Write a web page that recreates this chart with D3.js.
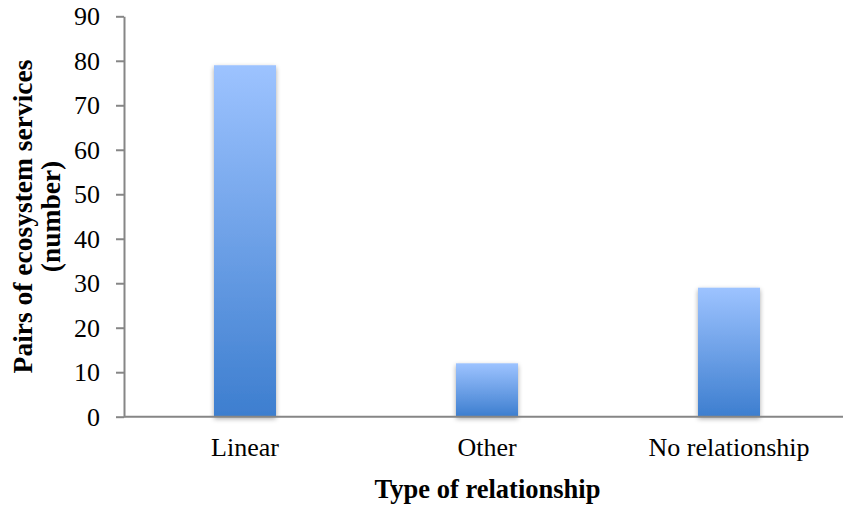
<!DOCTYPE html>
<html><head><meta charset="utf-8">
<script src="https://cdn.jsdelivr.net/npm/d3@7"></script>
<style>body{margin:0;background:#fff}svg{display:block}</style>
</head><body>
<script>
const categories = ["Linear", "Other", "No relationship"];
const values = [79, 12, 29];
const yTicks = [0, 10, 20, 30, 40, 50, 60, 70, 80, 90];
const yTitle = ["Pairs of ecosystem services", "(number)"];
const xTitle = "Type of relationship";

(function () {
const W = 843, H = 508;
const svg = d3.select("body").append("svg").attr("width", W).attr("height", H);
const mLeft = 124, mTop = 16.3, mBottom = 416.7;
const x = d3.scaleBand().domain(categories).range([mLeft, mLeft + 3 * 242]).padding(0);
const y = d3.scaleLinear().domain([0, 90]).range([mBottom, mTop]);

const defs = svg.append("defs");
const g = defs.append("linearGradient").attr("id", "bg").attr("x1", 0).attr("y1", 0).attr("x2", 0).attr("y2", 1);
g.append("stop").attr("offset", "0%").attr("stop-color", "#9dc3ff");
g.append("stop").attr("offset", "100%").attr("stop-color", "#3d7ecf");
const f = defs.append("filter").attr("id", "sh").attr("x", "-30%").attr("y", "-10%").attr("width", "160%").attr("height", "130%");
f.append("feGaussianBlur").attr("in", "SourceAlpha").attr("stdDeviation", 2.5).attr("result", "b");
f.append("feOffset").attr("in", "b").attr("dx", 0).attr("dy", 2).attr("result", "o");
f.append("feComponentTransfer").attr("in", "o").attr("result", "o2").append("feFuncA").attr("type", "linear").attr("slope", 0.35);
const m = f.append("feMerge");
m.append("feMergeNode").attr("in", "o2");
m.append("feMergeNode").attr("in", "SourceGraphic");

const bw = 62;
svg.append("g").selectAll("rect").data(values).join("rect")
  .attr("x", (d, i) => x(categories[i]) + x.bandwidth() / 2 - bw / 2)
  .attr("y", d => y(d))
  .attr("width", bw)
  .attr("height", d => y(0) - y(d))
  .attr("fill", "url(#bg)")
  .attr("filter", "url(#sh)");

const font = "'Liberation Serif', serif";
const ya = svg.append("g").attr("transform", `translate(${mLeft},0)`)
  .call(d3.axisLeft(y).tickValues(yTicks).tickSize(8).tickPadding(16).tickSizeOuter(0));
ya.select(".domain").attr("stroke", "#868686").attr("stroke-width", 2);
ya.selectAll(".tick line").attr("stroke", "#868686").attr("stroke-width", 2);
ya.selectAll(".tick text").attr("font-family", font).attr("font-size", 26).attr("fill", "#000");

const xa = svg.append("g").attr("transform", `translate(0,${mBottom})`)
  .call(d3.axisBottom(x).tickSize(0).tickPadding(21).tickSizeOuter(0));
xa.select(".domain").attr("stroke", "#868686").attr("stroke-width", 2).attr("d", `M${mLeft},0H${W}`);
xa.selectAll(".tick text").attr("font-family", font).attr("font-size", 26).attr("fill", "#000");

svg.append("text").attr("x", 487.5).attr("y", 497.5).attr("text-anchor", "middle")
  .attr("font-family", font).attr("font-weight", "bold").attr("font-size", 26.5).text(xTitle);

const yt = svg.append("text").attr("transform", "translate(32,216.5) rotate(-90)")
  .attr("text-anchor", "middle").attr("font-family", font).attr("font-weight", "bold").attr("font-size", 27.5);
yt.selectAll("tspan").data(yTitle).join("tspan").attr("x", 0).attr("dy", (d, i) => i ? 28 : 0).text(d => d);
})();
</script>
</body></html>
